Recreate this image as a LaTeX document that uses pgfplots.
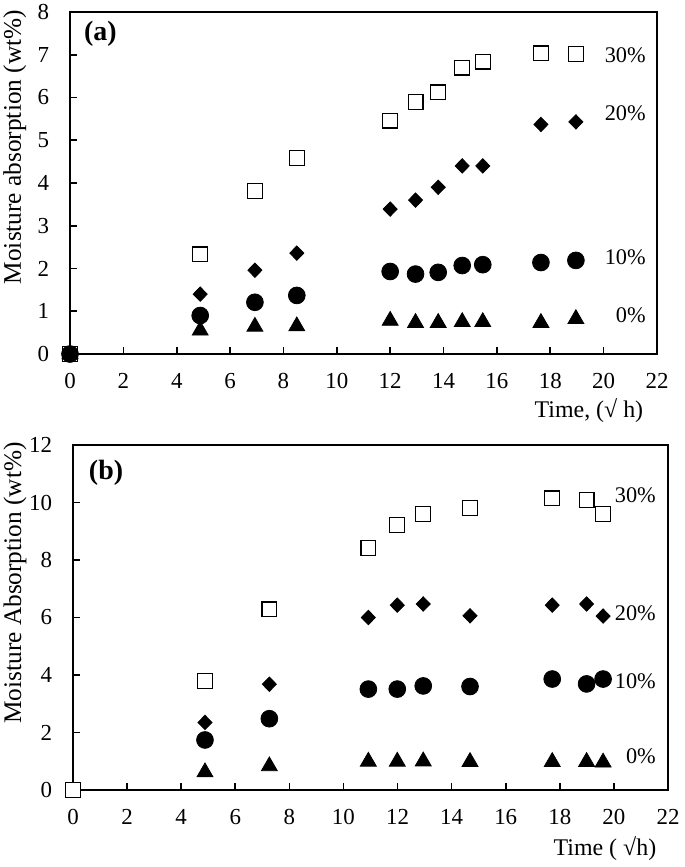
\documentclass[border=0pt]{standalone}
\usepackage{fontspec}
\setmainfont{Liberation Serif}
\usepackage{pgfplots}
\pgfplotsset{compat=1.18}

\pgfplotsset{
  moist/.style={
    scale only axis, clip=false,
    axis line style={line width=1bp},
    xmin=0, xmax=22, xtick={0,2,...,22},
    tick align=inside, xtick pos=left, ytick pos=left,
    major tick length=3.5bp, tick style={line width=0.8bp, black},
    ticklabel style={font=\fontsize{11.5}{13}\selectfont},
    xticklabel style={yshift=-6bp},
    yticklabel style={xshift=-7bp},
    /pgf/number format/assume math mode=true,
    xlabel style={font=\fontsize{12}{14}\selectfont, anchor=center},
    ylabel style={font=\fontsize{12.7}{14}\selectfont, anchor=center},
  },
  sq/.style={only marks, mark=square*, mark size=3.7bp,
    mark options={fill=white, draw=black, line width=0.6bp}},
  dia/.style={only marks, mark=diamond*, mark size=3.6bp,
    mark options={fill=black, draw=black, xscale=1.3}},
  circ/.style={only marks, mark=*, mark size=4.2bp,
    mark options={fill=black, draw=black}},
  tri/.style={only marks, mark=triangle*, mark size=4.6bp,
    mark options={fill=black, draw=black}},
}
\tikzset{
  pct/.style={anchor=east, font=\fontsize{11.2}{13}\selectfont},
  panel/.style={anchor=west, font=\fontsize{14}{16}\selectfont\bfseries},
}

\begin{document}
\begin{tikzpicture}
\path[use as bounding box] (0,0) rectangle (342.5bp,-433.5bp);

% panel (a)
\begin{axis}[moist,
  at={(35bp,-177bp)}, anchor=south west,
  width=293.5bp, height=171bp,
  ymin=0, ymax=8, ytick={0,1,...,8},
  xlabel={Time, (√ h)},
  xlabel style={at={(axis description cs:0.884,-0.165)}},
  ylabel={Moisture absorption (wt\%)},
  ylabel style={at={(axis description cs:-0.094,0.605)}},
]
\addplot[sq] coordinates {(0,0) (4.88,2.33) (6.93,3.82) (8.5,4.58) (12,5.46) (12.95,5.9) (13.8,6.12) (14.7,6.7) (15.47,6.84) (17.65,7.03) (18.96,7.02)};
\addplot[dia] coordinates {(0,0) (4.88,1.40) (6.93,1.96) (8.5,2.36) (12,3.39) (12.95,3.6) (13.8,3.9) (14.7,4.4) (15.47,4.4) (17.65,5.37) (18.96,5.43)};
\addplot[circ] coordinates {(0,0) (4.88,0.9) (6.93,1.21) (8.5,1.37) (12,1.93) (12.95,1.87) (13.8,1.91) (14.7,2.07) (15.47,2.09) (17.65,2.14) (18.96,2.19)};
\addplot[tri] coordinates {(0,0) (4.88,0.55) (6.93,0.64) (8.5,0.65) (12,0.78) (12.95,0.73) (13.8,0.73) (14.7,0.75) (15.47,0.75) (17.65,0.73) (18.96,0.82)};
\node[pct] at (axis cs:21.84,7.0) {30\%};
\node[pct] at (axis cs:21.84,5.64) {20\%};
\node[pct] at (axis cs:21.84,2.27) {10\%};
\node[pct] at (axis cs:21.84,0.91) {0\%};
\node[panel] at (axis description cs:0.012,0.935) {(a)};
\end{axis}

% panel (b)
\begin{axis}[moist,
  at={(36.5bp,-395bp)}, anchor=south west,
  width=297.5bp, height=172.5bp,
  ymin=0, ymax=12, ytick={0,2,...,12},
  xlabel={Time ( √h)},
  xlabel style={at={(axis description cs:0.894,-0.171)}},
  ylabel={Moisture Absorption (wt\%)},
  ylabel style={at={(axis description cs:-0.0975,0.6)}},
]
\addplot[dia] coordinates {(4.88,2.35) (7.26,3.68) (10.92,6.0) (11.99,6.43) (12.95,6.47) (14.68,6.06) (17.72,6.43) (18.99,6.47) (19.6,6.05)};
\addplot[circ] coordinates {(4.88,1.74) (7.26,2.48) (10.92,3.51) (11.99,3.51) (12.95,3.62) (14.68,3.6) (17.72,3.86) (18.99,3.69) (19.6,3.86)};
\addplot[tri] coordinates {(4.88,0.62) (7.26,0.83) (10.92,0.99) (11.99,0.99) (12.95,1.0) (14.68,0.98) (17.72,0.98) (18.99,0.98) (19.6,0.96)};
\addplot[sq] coordinates {(0,0) (4.88,3.79) (7.26,6.28) (10.92,8.41) (11.99,9.22) (12.95,9.6) (14.68,9.8) (17.72,10.14) (18.99,10.09) (19.6,9.6)};
\node[pct] at (axis cs:21.81,10.26) {30\%};
\node[pct] at (axis cs:21.81,6.16) {20\%};
\node[pct] at (axis cs:21.81,3.8) {10\%};
\node[pct] at (axis cs:21.81,1.16) {0\%};
\node[panel] at (axis description cs:0.015,0.92) {(b)};
\end{axis}
\end{tikzpicture}
\end{document}
